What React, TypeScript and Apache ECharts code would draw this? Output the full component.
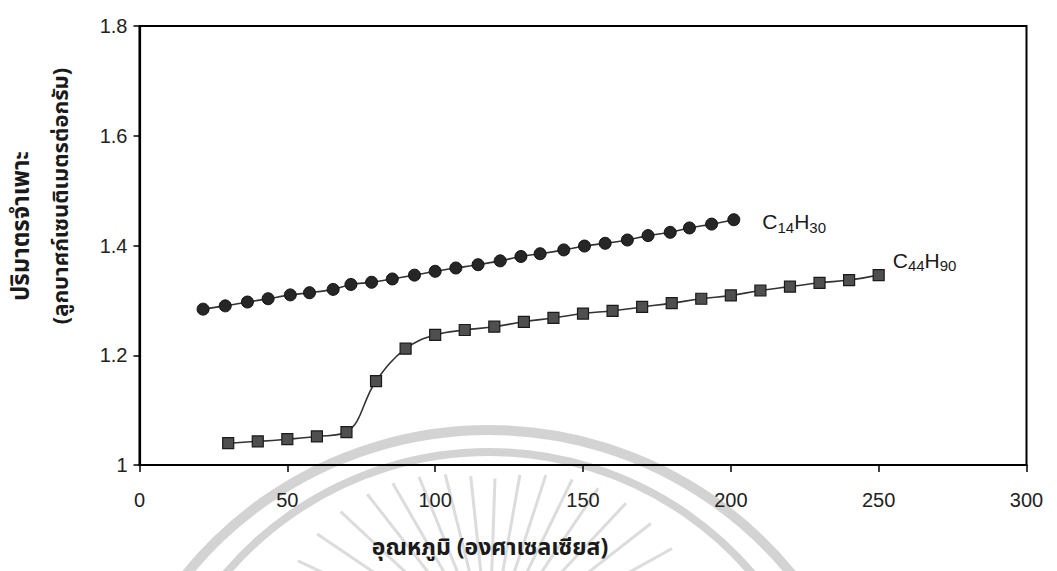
import React, { useEffect, useRef } from "react";
import * as echarts from "echarts";

// ---- data ----
const SERIES_NAMES = ["C14H30", "C44H90"];
const X_C14H30 = [21.5, 29, 36.5, 43.5, 51, 57.5, 65.5, 71.5, 78.5, 85.5, 93, 100, 107, 114.5, 122, 129, 135.5, 143.5, 150.5, 157.5, 165, 172, 179.5, 186, 193.5, 201];
const Y_C14H30 = [1.284, 1.29, 1.297, 1.303, 1.31, 1.314, 1.32, 1.329, 1.333, 1.339, 1.346, 1.353, 1.359, 1.365, 1.372, 1.38, 1.385, 1.392, 1.399, 1.404, 1.41, 1.418, 1.424, 1.432, 1.439, 1.447];
const X_C44H90 = [30, 40, 50, 60, 70, 80, 90, 100, 110, 120, 130, 140, 150, 160, 170, 180, 190, 200, 210, 220, 230, 240, 250];
const Y_C44H90 = [1.04, 1.043, 1.047, 1.052, 1.06, 1.153, 1.212, 1.237, 1.246, 1.252, 1.261, 1.268, 1.276, 1.281, 1.288, 1.295, 1.303, 1.309, 1.318, 1.325, 1.332, 1.337, 1.346];
const SERIES_LABELS = ["{a|C}{b|14}{a|H}{b|30}", "{a|C}{b|44}{a|H}{b|90}"];
const X_AXIS_TITLE = "อุณหภูมิ (องศาเซลเซียส)";
const Y_AXIS_TITLE_1 = "ปริมาตรจำเพาะ";
const Y_AXIS_TITLE_2 = "(ลูกบาศก์เซนติเมตรต่อกรัม)";
const X_MIN = 0, X_MAX = 300, X_STEP = 50;
const Y_MIN = 1, Y_MAX = 1.8, Y_STEP = 0.2;
const RAY_ANGLES_DEG = [-165, -155, -146, -137, -128, -120, -112, -104, -96, -88, -80, -72, -64, -56, -47, -38, -29, -20, -12];

const LATIN = "'Liberation Sans', Arial, sans-serif";
const THAI = "'Noto Sans Thai', 'Noto Sans Thai UI', Loma, Garuda, 'Tlwg Typo', Tahoma, 'DejaVu Sans', sans-serif";

const rich = {
  a: { fontSize: 21, fontFamily: LATIN, color: "#1a1a1a", lineHeight: 26, verticalAlign: "middle" },
  b: { fontSize: 15, fontFamily: LATIN, color: "#1a1a1a", lineHeight: 15, verticalAlign: "bottom" },
};

function buildData(xs: number[], ys: number[], labelText: string, distance: number, offset: number[]) {
  return xs.map((x, i) => {
    if (i === xs.length - 1) {
      return {
        value: [x, ys[i]],
        label: {
          show: true,
          position: "right",
          distance,
          offset,
          formatter: labelText,
          rich,
        },
      };
    }
    return { value: [x, ys[i]] };
  });
}

export default function App() {
  const ref = useRef<HTMLDivElement>(null);
  useEffect(() => {
    if (!ref.current) return;
    const chart = echarts.init(ref.current, undefined, { renderer: "svg" });
    const cx = 489;
    const cyRay = 650;
    const rays = RAY_ANGLES_DEG.map((d) => {
      const t = (d * Math.PI) / 180;
      const rOut = 170 + 45 * Math.abs(Math.cos(t));
      const rIn = 70;
      return {
        type: "line",
        z: -1,
        silent: true,
        shape: {
          x1: cx + rIn * Math.cos(t),
          y1: cyRay + rIn * Math.sin(t),
          x2: cx + rOut * Math.cos(t),
          y2: cyRay + rOut * Math.sin(t),
        },
        style: { stroke: "rgba(185,185,185,0.5)", lineWidth: 3 },
      };
    });
    chart.setOption({
      animation: false,
      backgroundColor: "#ffffff",
      grid: {
        left: 139.5,
        right: 30.5,
        top: 26,
        bottom: 106,
        show: true,
        borderColor: "#000",
        borderWidth: 2,
        backgroundColor: "transparent",
      },
      xAxis: {
        type: "value",
        min: X_MIN,
        max: X_MAX,
        interval: X_STEP,
        axisLine: { show: true, onZero: false, lineStyle: { color: "#000", width: 2.2 } },
        axisTick: { show: true, length: 7, lineStyle: { color: "#000", width: 1.5 } },
        axisLabel: { color: "#222", fontSize: 20, fontFamily: LATIN, margin: 25 },
        splitLine: { show: false },
      },
      yAxis: {
        type: "value",
        min: Y_MIN,
        max: Y_MAX,
        interval: Y_STEP,
        axisLine: { show: true, onZero: false, lineStyle: { color: "#000", width: 2.2 } },
        axisTick: { show: true, length: 6, lineStyle: { color: "#000", width: 1.5 } },
        axisLabel: {
          color: "#222",
          fontSize: 20,
          fontFamily: LATIN,
          margin: 12,
          formatter: (v: number) => String(Math.round(v * 10) / 10),
        },
        splitLine: { show: false },
      },
      series: [
        {
          name: SERIES_NAMES[0],
          type: "line",
          smooth: 0.3,
          symbol: "circle",
          symbolSize: 12,
          lineStyle: { color: "#333", width: 1.6 },
          itemStyle: { color: "#262626", borderColor: "#111", borderWidth: 1 },
          data: buildData(X_C14H30, Y_C14H30, SERIES_LABELS[0], 22, [0, 2]),
          z: 3,
        },
        {
          name: SERIES_NAMES[1],
          type: "line",
          smooth: 0.4,
          symbol: "rect",
          symbolSize: 11,
          lineStyle: { color: "#333", width: 1.6 },
          itemStyle: { color: "#4f4f4f", borderColor: "#1a1a1a", borderWidth: 1.2 },
          data: buildData(X_C44H90, Y_C44H90, SERIES_LABELS[1], 8, [0, -15]),
          z: 3,
        },
      ],
      graphic: [
        {
          type: "arc",
          z: -1,
          silent: true,
          shape: { cx, cy: 820, r: 390, startAngle: Math.PI + 0.35, endAngle: 2 * Math.PI - 0.35, clockwise: true },
          style: { stroke: "rgba(175,175,175,0.55)", lineWidth: 10, fill: null },
        },
        {
          type: "arc",
          z: -1,
          silent: true,
          shape: { cx, cy: 798, r: 346, startAngle: Math.PI + 0.35, endAngle: 2 * Math.PI - 0.35, clockwise: true },
          style: { stroke: "rgba(175,175,175,0.55)", lineWidth: 8, fill: null },
        },
        ...rays,
        {
          type: "text",
          x: 22,
          y: 226,
          rotation: Math.PI / 2,
          style: {
            text: Y_AXIS_TITLE_1,
            fontSize: 24,
            fontWeight: "bold",
            fontFamily: THAI,
            fill: "#1a1a1a",
            align: "center",
            verticalAlign: "middle",
          },
        },
        {
          type: "text",
          x: 61,
          y: 196,
          rotation: Math.PI / 2,
          style: {
            text: Y_AXIS_TITLE_2,
            fontSize: 22,
            fontWeight: "bold",
            fontFamily: THAI,
            fill: "#1a1a1a",
            align: "center",
            verticalAlign: "middle",
          },
        },
        {
          type: "text",
          x: 490,
          y: 548,
          style: {
            text: X_AXIS_TITLE,
            fontSize: 23,
            fontWeight: "bold",
            fontFamily: THAI,
            fill: "#1a1a1a",
            align: "center",
            verticalAlign: "middle",
          },
        },
      ],
    });
    return () => chart.dispose();
  }, []);
  return (
    <div
      ref={ref}
      style={{ position: "fixed", left: 0, top: 0, width: 1057, height: 571, background: "#fff" }}
    />
  );
}
